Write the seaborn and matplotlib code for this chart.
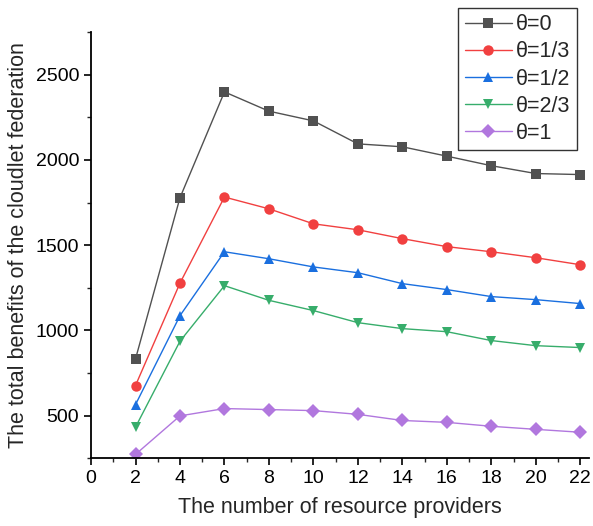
import numpy as np
import pandas as pd
import matplotlib
matplotlib.use("Agg")
import matplotlib.pyplot as plt
import seaborn as sns
from matplotlib.ticker import MultipleLocator

providers = [2, 4, 6, 8, 10, 12, 14, 16, 18, 20, 22]
theta_labels = ["θ=0", "θ=1/3", "θ=1/2", "θ=2/3", "θ=1"]
v0 = [832, 1778, 2399, 2286, 2229, 2094, 2077, 2022, 1966, 1920, 1914]
v13 = [676, 1277, 1782, 1713, 1625, 1590, 1538, 1491, 1461, 1426, 1385]
v12 = [564, 1086, 1461, 1420, 1372, 1338, 1274, 1239, 1198, 1180, 1157]
v23 = [432, 936, 1262, 1176, 1116, 1045, 1010, 992, 940, 910, 899]
v1 = [272, 498, 541, 535, 529, 507, 471, 460, 437, 419, 402]
series = [v0, v13, v12, v23, v1]

colors = ["#515151", "#F14040", "#1A6FDF", "#37AD6B", "#B177DE"]
markers = ["s", "o", "^", "v", "D"]

rows = []
for lab, vals in zip(theta_labels, series):
    for x, y in zip(providers, vals):
        rows.append({"x": x, "y": y, "theta": lab})
df = pd.DataFrame(rows)

sns.set_style("ticks")
plt.rcParams['font.family'] = ['Liberation Sans', 'DejaVu Sans']

fig = plt.figure(figsize=(5.93, 5.26), dpi=100)
ax = fig.add_axes([0.1535, 0.129, 0.84, 0.81])

sns.lineplot(data=df, x="x", y="y", hue="theta", style="theta",
             hue_order=theta_labels, style_order=theta_labels,
             palette=colors, markers=dict(zip(theta_labels, markers)),
             dashes=False, linewidth=1.0, markersize=7.5, markeredgewidth=0,
             ax=ax, legend=True)

ax.set_xlim(0, 22.4)
ax.set_ylim(250, 2750)
ax.xaxis.set_major_locator(MultipleLocator(2))
ax.xaxis.set_minor_locator(MultipleLocator(1))
ax.yaxis.set_major_locator(MultipleLocator(500))
ax.yaxis.set_minor_locator(MultipleLocator(250))
ax.set_yticks([500, 1000, 1500, 2000, 2500])
ax.tick_params(axis='both', which='major', direction='out', length=5, width=1.2,
               labelsize=14, colors='black')
ax.tick_params(axis='both', which='minor', direction='out', length=3, width=1.0)
for s in ['right', 'top']:
    ax.spines[s].set_visible(False)
for s in ['left', 'bottom']:
    ax.spines[s].set_linewidth(1.3)
    ax.spines[s].set_color('black')

ax.set_xlabel("The number of resource providers", fontsize=15.5, labelpad=7)
ax.set_ylabel("The total benefits of the cloudlet federation", fontsize=15.5, labelpad=5)

leg = ax.legend(loc='upper right', bbox_to_anchor=(577/593, 1 - 8/526),
                bbox_transform=fig.transFigure, fontsize=15.5, frameon=True,
                fancybox=False, edgecolor='black', borderpad=0.3,
                handlelength=2.2, labelspacing=0.28, handletextpad=0.2,
                borderaxespad=0)
leg.get_frame().set_linewidth(1.0)

fig.savefig("out.png", dpi=100)
